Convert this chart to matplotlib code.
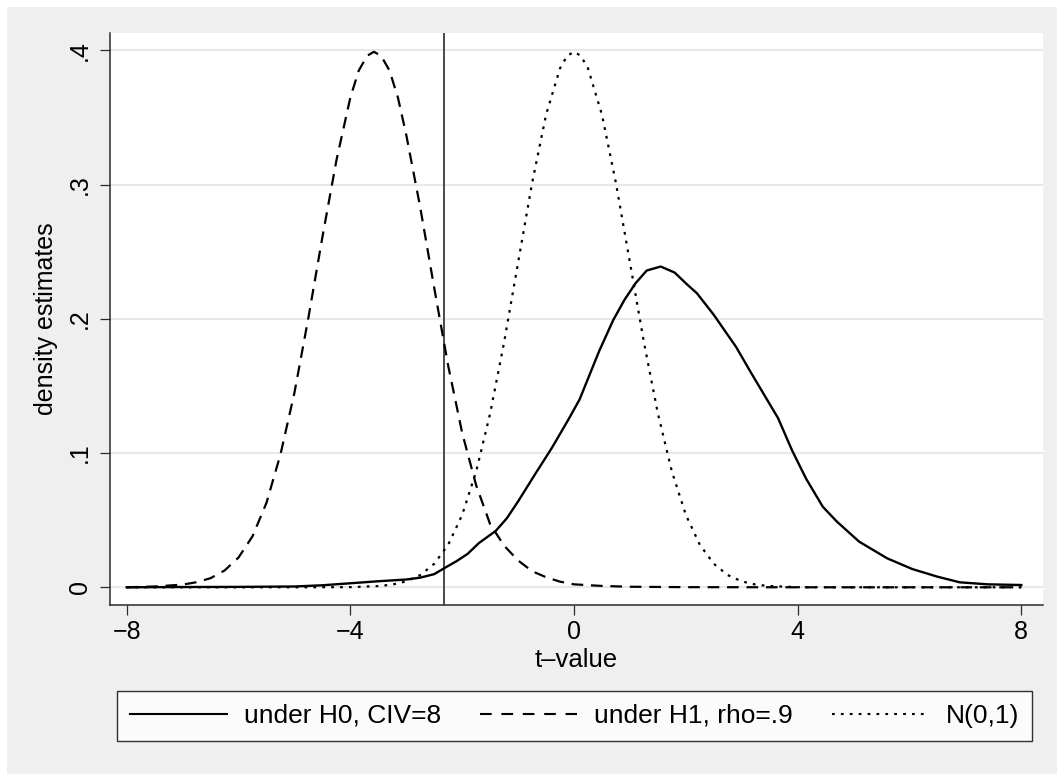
import matplotlib
matplotlib.use("Agg")
import matplotlib.pyplot as plt
from matplotlib.patches import Rectangle
from matplotlib.lines import Line2D

plt.rcParams['font.family'] = ['Liberation Sans', 'DejaVu Sans']
plt.rcParams['lines.scale_dashes'] = False

# ---- data ----
h0_x = [-8, -7, -6, -5, -4.5, -4, -3.5, -3, -2.75, -2.5, -2.33, -2.1, -1.9, -1.7,
        -1.4, -1.2, -1.0, -0.7, -0.4, -0.1, 0.1, 0.45, 0.7, 0.9, 1.1, 1.3, 1.55,
        1.8, 2.0, 2.2, 2.5, 2.9, 3.15, 3.45, 3.65, 3.9, 4.15, 4.45, 4.7, 5.1, 5.6,
        6.05, 6.5, 6.9, 7.4, 8]
h0_y = [0.0, 0.0002, 0.0003, 0.0006, 0.0015, 0.0030, 0.0045, 0.0058, 0.0072, 0.0098,
        0.0140, 0.0195, 0.0250, 0.0330, 0.0420, 0.0515, 0.0640, 0.0840, 0.1036, 0.1250,
        0.1400, 0.1760, 0.1990, 0.2140, 0.2265, 0.2360, 0.2390, 0.2345, 0.2265, 0.2190,
        0.2030, 0.1790, 0.1610, 0.1400, 0.1260, 0.1020, 0.0810, 0.0600, 0.0490, 0.0340,
        0.0216, 0.0136, 0.0079, 0.0037, 0.0022, 0.0017]

h1_x = [-8, -7.5, -7, -6.75, -6.5, -6.25, -6, -5.75, -5.5, -5.25, -5, -4.75, -4.5,
        -4.25, -4, -3.85, -3.7, -3.58, -3.45, -3.3, -3.15, -3, -2.75, -2.5, -2.25, -2,
        -1.75, -1.5, -1.25, -1, -0.75, -0.5, -0.25, 0, 0.5, 1, 2, 4, 8]
h1_y = [0.0, 0.0006, 0.0020, 0.0038, 0.0068, 0.0125, 0.0222, 0.038, 0.063, 0.099,
        0.145, 0.201, 0.261, 0.318, 0.365, 0.385, 0.396, 0.399, 0.396, 0.385, 0.365,
        0.337, 0.283, 0.223, 0.165, 0.115, 0.076, 0.047, 0.031, 0.020, 0.012, 0.0075,
        0.0042, 0.0022, 0.0010, 0.0004, 0.0001, 0.0, 0.0]

n01_x = [-8, -5, -4, -3.5, -3.25, -3, -2.75, -2.5, -2.25, -2, -1.75, -1.5, -1.25, -1,
         -0.75, -0.5, -0.25, -0.12, 0, 0.12, 0.25, 0.5, 0.75, 1, 1.25, 1.5, 1.75, 2,
         2.25, 2.5, 2.75, 3, 3.25, 3.5, 4, 5, 8]
n01_y = [0.0, 0.0, 0.0001, 0.0009, 0.0020, 0.0044, 0.0091, 0.0175, 0.0317, 0.0540,
         0.0863, 0.1295, 0.1826, 0.2420, 0.3011, 0.3521, 0.3867, 0.3961, 0.3989, 0.3961,
         0.3867, 0.3521, 0.3011, 0.2420, 0.1826, 0.1295, 0.0863, 0.0540, 0.0317, 0.0175,
         0.0091, 0.0044, 0.0020, 0.0009, 0.0001, 0.0, 0.0]

crit_value = -2.33
labels = ["under H0, CIV=8", "under H1, rho=.9", "N(0,1)"]
x_ticks = [-8, -4, 0, 4, 8]
x_ticklabels = ["\u22128", "\u22124", "0", "4", "8"]
y_ticks = [0, 0.1, 0.2, 0.3, 0.4]
y_ticklabels = ["0", ".1", ".2", ".3", ".4"]

W, H = 1057, 774
fig = plt.figure(figsize=(W / 100, H / 100), dpi=100)
fig.patch.set_facecolor("white")
fig.add_artist(Rectangle((7 / W, -0.01), 1.05, (H - 7) / H + 0.01, transform=fig.transFigure,
                         facecolor="#efefef", edgecolor="none", zorder=-10))

ax = fig.add_axes([110 / W, 1 - 604.7 / H, (1043 - 110) / W, (604.7 - 33) / H])
ax.set_facecolor("white")

ax.set_xlim(-8.299, 8.388)
ax.set_ylim(-0.01297, 0.4130)

for sp in ["top", "right"]:
    ax.spines[sp].set_visible(False)
for sp in ["left", "bottom"]:
    ax.spines[sp].set_color("#2b2b2b")
    ax.spines[sp].set_linewidth(1.1)

ax.set_yticks(y_ticks)
ax.set_yticklabels(y_ticklabels)
ax.set_xticks(x_ticks)
ax.set_xticklabels(x_ticklabels)
ax.tick_params(axis="both", colors="#2b2b2b", labelcolor="black", length=7.2,
               width=0.9, labelsize=18)
ax.tick_params(axis="y", labelrotation=90, pad=6)
ax.tick_params(axis="x", pad=4)
for t in ax.get_yticklabels():
    t.set_va("center")

ax.grid(axis="y", color="#e8e8e8", linewidth=1.5)
ax.set_axisbelow(True)

ax.axvline(crit_value, color="#3a3a3a", linewidth=1.3, zorder=1.5)

l1, = ax.plot(h0_x, h0_y, color="black", linewidth=1.7, solid_joinstyle="round")
l2, = ax.plot(h1_x, h1_y, color="black", linewidth=1.6, dashes=(8.4, 5.6))
l3, = ax.plot(n01_x, n01_y, color="black", linewidth=1.6, dashes=(2.0, 4.4))

ax.set_xlabel("t\u2013value", fontsize=18.5, labelpad=3)
ax.set_ylabel("density estimates", fontsize=18, labelpad=7)

h1 = Line2D([], [], color="black", linewidth=1.5)
h2 = Line2D([], [], color="black", linewidth=1.5, dashes=(8.4, 7.0))
h3 = Line2D([], [], color="black", linewidth=1.5, dashes=(2.0, 4.4))
leg = fig.legend([h1, h2, h3], labels, loc="center",
                 bbox_to_anchor=(574.5 / W, 1 - 716 / H), ncol=3, fontsize=19,
                 handlelength=3.68, handletextpad=0.62, columnspacing=1.5,
                 borderpad=0.5, frameon=True, fancybox=False)
leg.get_frame().set_edgecolor("black")
leg.get_frame().set_linewidth(1.0)
leg.get_frame().set_facecolor("white")

fig.savefig("out.png", dpi=100, facecolor=fig.get_facecolor())
